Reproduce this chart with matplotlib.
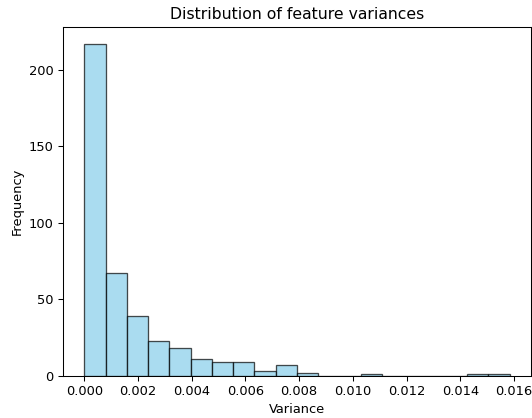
import numpy as np
import matplotlib
matplotlib.use("Agg")
import matplotlib.pyplot as plt

# Histogram of per-feature variances: 20 equal-width bins
var_min = 0.0
var_max = 0.01584
n_bins = 20
bin_counts = [217, 67, 39, 23, 18, 11, 9, 9, 3, 7, 2, 0, 0, 1, 0, 0, 0, 0, 1, 1]

edges = np.linspace(var_min, var_max, n_bins + 1)
centers = (edges[:-1] + edges[1:]) / 2

DPI = 94
W, H = 532, 418
fig = plt.figure(figsize=(W / DPI, H / DPI), dpi=DPI)
ax = fig.add_axes([63 / W, 1 - 376 / H, (531 - 63) / W, (376 - 27) / H])
ax.hist(centers, bins=edges, weights=bin_counts, color="skyblue",
        edgecolor="black", alpha=0.7)
ax.set_title("Distribution of feature variances")
ax.set_xlabel("Variance")
ax.set_ylabel("Frequency")
ax.set_xticks([0.0, 0.002, 0.004, 0.006, 0.008, 0.010, 0.012, 0.014, 0.016])
ax.set_xticklabels(["0.000", "0.002", "0.004", "0.006", "0.008", "0.010",
                    "0.012", "0.014", "0.016"])
fig.savefig("out.png", dpi=DPI)
